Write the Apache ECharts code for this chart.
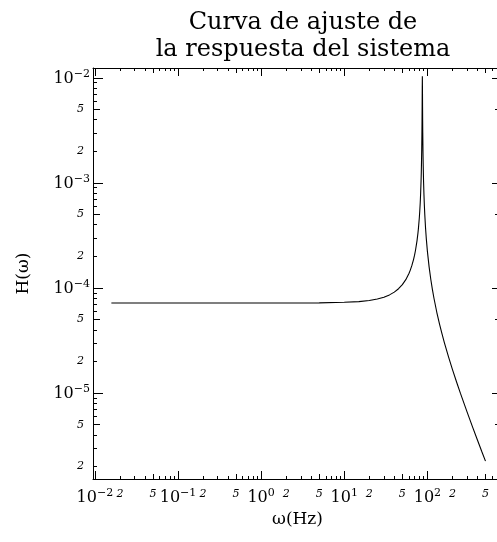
<!DOCTYPE html>
<html>
<head>
<meta charset="utf-8">
<script src="https://cdn.jsdelivr.net/npm/echarts@6/dist/echarts.min.js"></script>
<style>
  html, body { margin: 0; padding: 0; background: #fff; }
  #chart { width: 497px; height: 542px; }
</style>
</head>
<body>
<div id="chart"></div>
<script>
// Frequency samples (Hz) and measured magnitude of the fitted response
const omega = [0.0158, 0.1, 1, 5, 10, 15, 20, 25, 30, 35, 40, 45, 50, 55, 60, 62, 65, 68, 70, 72,
  75, 77, 78, 80, 81, 82, 83, 84, 84.5, 85, 85.5, 86, 86.25, 86.5, 86.75, 87, 87.25, 87.5, 87.75,
  88, 88.5, 89, 90, 91, 92, 93, 95, 97, 100, 105, 110, 115, 120, 130, 140, 150, 160, 180, 200,
  225, 250, 300, 350, 400, 450, 500];
const response = [7.20e-5, 7.20e-5, 7.20e-5, 7.22e-5, 7.30e-5, 7.42e-5, 7.60e-5, 7.848e-5, 8.17e-5,
  8.590e-5, 9.13e-5, 9.830e-5, 1.075e-4, 1.199e-4, 1.373e-4, 1.463e-4, 1.630e-4, 1.851e-4, 2.042e-4,
  2.285e-4, 2.804e-4, 3.323e-4, 3.670e-4, 4.66e-4, 5.407e-4, 6.449e-4, 8.01e-4, 1.062e-3, 1.262e-3,
  1.586e-3, 2.065e-3, 3.02e-3, 3.892e-3, 5.38e-3, 8.0e-3, 1.037e-2, 7.97e-3, 5.34e-3, 3.854e-3,
  2.98e-3, 2.029e-3, 1.53e-3, 1.021e-3, 7.65e-4, 6.089e-4, 5.046e-4, 3.743e-4, 2.962e-4, 2.242e-4,
  1.577e-4, 1.203e-4, 9.635e-5, 7.98e-5, 5.84e-5, 4.530e-5, 3.650e-5, 3.022e-5, 2.195e-5, 1.680e-5,
  1.266e-5, 9.92e-6, 6.61e-6, 4.742e-6, 3.575e-6, 2.796e-6, 2.248e-6];

// Axis ranges
const xRange = [0.0095, 790];
const yRange = [1.52e-6, 0.0124];

// Tick positions: decades, fives, twos and the remaining minor ticks
const xDecades = [0.01, 0.1, 1, 10, 100];
const xFives = [0.05, 0.5, 5, 50, 500];
const xTwos = [0.02, 0.2, 2, 20, 200];
const xMinors = [0.03, 0.04, 0.06, 0.07, 0.08, 0.09, 0.3, 0.4, 0.6, 0.7, 0.8, 0.9,
  3, 4, 6, 7, 8, 9, 30, 40, 60, 70, 80, 90, 300, 400, 600, 700];
const yDecades = [1e-5, 1e-4, 1e-3, 1e-2];
const yFives = [5e-6, 5e-5, 5e-4, 5e-3];
const yTwos = [2e-6, 2e-5, 2e-4, 2e-3];
const yMinors = [3e-6, 4e-6, 6e-6, 7e-6, 8e-6, 9e-6, 3e-5, 4e-5, 6e-5, 7e-5, 8e-5, 9e-5,
  3e-4, 4e-4, 6e-4, 7e-4, 8e-4, 9e-4, 3e-3, 4e-3, 6e-3, 7e-3, 8e-3, 9e-3];

const SERIF = 'DejaVu Serif';

function decadeLabel(v) {
  const e = Math.round(Math.log10(v));
  return '{b|10}{s|' + (e < 0 ? '\u2212' : '') + Math.abs(e) + '}';
}
function mantissaLabel(v) {
  const e = Math.floor(Math.log10(v) + 1e-9);
  return String(Math.round(v / Math.pow(10, e)));
}

const decadeRich = {
  b: { fontFamily: SERIF, fontSize: 16, color: '#000', lineHeight: 18, verticalAlign: 'bottom' },
  s: { fontFamily: SERIF, fontSize: 11, color: '#000', lineHeight: 18, verticalAlign: 'top', padding: [0, 0, 6, 0] }
};

function logAxis(pos, range, ticks, tickLen, opts) {
  opts = opts || {};
  const axis = {
    type: 'log',
    logBase: 10,
    position: pos,
    min: range[0],
    max: range[1],
    axisLine: { show: !!opts.line, onZero: false, lineStyle: { color: '#000', width: 1 } },
    axisTick: { show: true, inside: true, length: tickLen, customValues: ticks,
      lineStyle: { color: '#000', width: 1 } },
    minorTick: { show: false },
    splitLine: { show: false },
    axisLabel: { show: false }
  };
  if (opts.labels) {
    axis.axisLabel = {
      show: true,
      customValues: opts.labels,
      margin: opts.margin,
      formatter: opts.fmt,
      color: '#000',
      fontFamily: SERIF,
      fontSize: opts.fontSize || 11,
      fontStyle: opts.italic ? 'italic' : 'normal',
      rich: opts.rich,
      hideOverlap: false
    };
  }
  if (opts.name) {
    axis.name = opts.name;
    axis.nameLocation = 'middle';
    axis.nameGap = opts.nameGap;
    axis.nameTextStyle = { fontFamily: SERIF, fontSize: 17, color: '#000' };
  }
  return axis;
}

const xAxes = [
  logAxis('bottom', xRange, xDecades, 8, { line: true, labels: xDecades, fmt: decadeLabel, rich: decadeRich, margin: 9,
    name: '\u03c9(Hz)', nameGap: 31 }),
  logAxis('bottom', xRange, xFives, 5, { labels: xFives, fmt: mantissaLabel, italic: true, margin: 10 }),
  logAxis('bottom', xRange, xTwos.concat(xMinors), 3, { labels: xTwos, fmt: mantissaLabel, italic: true, margin: 10 }),
  logAxis('top', xRange, xDecades, 8, { line: true }),
  logAxis('top', xRange, xFives, 5),
  logAxis('top', xRange, xTwos.concat(xMinors), 3)
];
const yAxes = [
  logAxis('left', yRange, yDecades, 10, { line: true, labels: yDecades, fmt: decadeLabel, rich: decadeRich, margin: 3,
    name: 'H(\u03c9)', nameGap: 61 }),
  logAxis('left', yRange, yFives, 7, { labels: yFives, fmt: mantissaLabel, italic: true, margin: 9 }),
  logAxis('left', yRange, yTwos.concat(yMinors), 4, { labels: yTwos, fmt: mantissaLabel, italic: true, margin: 9 }),
  logAxis('right', yRange, yDecades, 10, { line: true }),
  logAxis('right', yRange, yFives, 7),
  logAxis('right', yRange, yTwos.concat(yMinors), 4)
];

const chart = echarts.init(document.getElementById('chart'), null, { renderer: 'canvas' });
chart.setOption({
  backgroundColor: '#fff',
  animation: false,
  title: {
    text: 'Curva de ajuste de\nla respuesta del sistema',
    left: 298,
    top: 4,
    textAlign: 'center',
    textStyle: { fontFamily: SERIF, fontSize: 24, fontWeight: 'normal', color: '#000', lineHeight: 27 }
  },
  grid: { left: 93, top: 68, right: -5, bottom: 63, outerBoundsMode: 'none' },
  xAxis: xAxes,
  yAxis: yAxes,
  series: [{
    type: 'line',
    xAxisIndex: 0,
    yAxisIndex: 0,
    data: omega.map((w, i) => [w, response[i]]),
    showSymbol: false,
    symbol: 'none',
    lineStyle: { color: '#000', width: 1.1 },
    clip: true
  }]
});
</script>
</body>
</html>
